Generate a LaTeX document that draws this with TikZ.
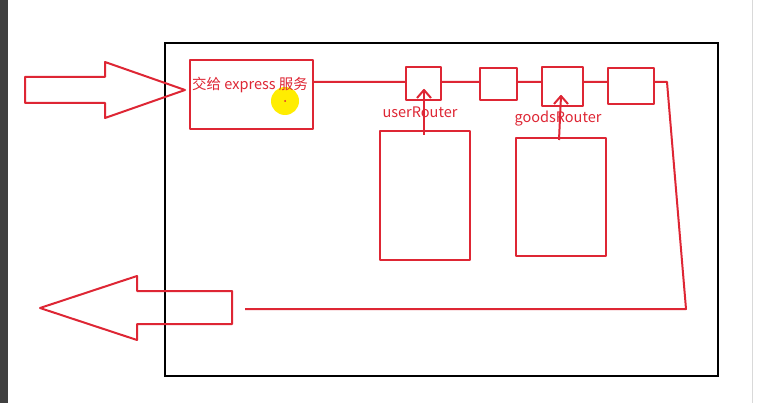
\documentclass[tikz,border=0pt]{standalone}
\usepackage{fontspec}
\setmainfont{Noto Sans CJK SC}
\definecolor{pen}{RGB}{222,38,52}
\begin{document}
\begin{tikzpicture}[x=1pt,y=-1pt,
  redline/.style={draw=pen,line width=2pt,line join=round},
  lbl/.style={text=pen,font=\fontsize{14.5}{16}\selectfont,inner sep=0pt}]
\useasboundingbox[fill=white] (0,0) rectangle (784,403);
\fill[black!75] (0,0) rectangle (8,403);
\draw[black!15] (752,0) -- (752,403);
\draw[line width=2.5pt] (165,43) rectangle (718,376);
% arrows
\draw[redline] (25,77) -- (105,77) -- (105,62) -- (185,90) -- (105,118) -- (105,103) -- (25,103) -- cycle;
\draw[redline] (40,308) -- (137,276) -- (137,291) -- (232,291) -- (232,324) -- (137,324) -- (137,340) -- cycle;
% express box
\node[redline,minimum width=123pt,minimum height=69pt,anchor=north west] (ex) at (189,59) {};
\fill[yellow!95!orange] (285,101) circle (14);
\fill[pen] (285,101) circle (1);
\node[lbl,font=\fontsize{14.5}{16}\selectfont] (ext) at (250,85) {交给 express 服务};
% route line
\coordinate (p1) at (667,82);
\coordinate (p2) at (686,309);
\coordinate (p3) at (245,309);
\draw[redline] (312,82) -- (p1) -- (p2) -- (p3);
% small boxes
\node[redline,fill=white,minimum width=35pt,minimum height=33pt,anchor=north west] (s1) at (405,66) {};
\node[redline,fill=white,minimum width=37pt,minimum height=32pt,anchor=north west] (s2) at (479,67) {};
\node[redline,fill=white,minimum width=41pt,minimum height=39pt,anchor=north west] (s3) at (541,66) {};
\node[redline,fill=white,minimum width=46pt,minimum height=36pt,anchor=north west] (s4) at (607,67) {};
% big boxes
\node[redline,minimum width=90pt,minimum height=129pt,anchor=north west] (b1) at (379,130) {};
\node[redline,minimum width=90pt,minimum height=118pt,anchor=north west] (b2) at (515,137) {};
% labels
\node[lbl] (u) at (420,112) {userRouter};
\node[lbl] (g) at (558,119) {goodsRouter};
% up arrows
\coordinate (a1) at (424,135);
\coordinate (a2) at (424,90);
\coordinate (a3) at (559,140);
\coordinate (a4) at (561,96);
\draw[redline] (a1) -- (a2);
\draw[redline] (417,98) -- (a2) -- (431,98);
\draw[redline] (a3) -- (a4);
\draw[redline] (554,104) -- (a4) -- (568,104);
\end{tikzpicture}
\end{document}
